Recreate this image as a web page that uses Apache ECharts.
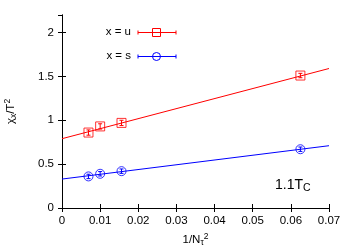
<!DOCTYPE html>
<html><head><meta charset="utf-8">
<script src="https://cdn.jsdelivr.net/npm/echarts@6/dist/echarts.min.js"></script>
<style>html,body{margin:0;padding:0;background:#fff}#c{width:350px;height:245px}</style>
</head><body><div id="c"></div>
<script>
var xVals = [0.00694, 0.01, 0.0156, 0.0625];
var uVals = [0.86, 0.93, 0.97, 1.51];
var uErr = [0.03, 0.03, 0.03, 0.025];
var sVals = [0.36, 0.39, 0.42, 0.67];
var sErr = [0.025, 0.025, 0.025, 0.025];
var fitX = [0, 0.07];
var uFit = [0.79, 1.59];
var sFit = [0.33, 0.71];
var xTicks = [0, 0.01, 0.02, 0.03, 0.04, 0.05, 0.06, 0.07];
var yTicks = [0, 0.5, 1, 1.5, 2];
var seriesNames = ['x = u', 'x = s'];

var FONT = 'Liberation Sans';
var FS = 11.5;
var RED = '#ff0000', BLUE = '#0000ff';

function pts(xs, ys) { return xs.map(function (x, i) { return [x, ys[i]]; }); }
function errData(xs, ys, es) { return xs.map(function (x, i) { return [x, ys[i] - es[i], ys[i] + es[i]]; }); }
function errRender(color) {
  return function (params, api) {
    var lo = api.coord([api.value(0), api.value(1)]);
    var hi = api.coord([api.value(0), api.value(2)]);
    var w = 2;
    return {
      type: 'group',
      children: [
        { type: 'line', shape: { x1: lo[0], y1: lo[1], x2: hi[0], y2: hi[1] }, style: { stroke: color, lineWidth: 1 } },
        { type: 'line', shape: { x1: lo[0] - w, y1: lo[1], x2: lo[0] + w, y2: lo[1] }, style: { stroke: color, lineWidth: 1 } },
        { type: 'line', shape: { x1: hi[0] - w, y1: hi[1], x2: hi[0] + w, y2: hi[1] }, style: { stroke: color, lineWidth: 1 } }
      ]
    };
  };
}

var axisCommon = {
  axisLine: { show: true, lineStyle: { color: '#000', width: 1 } },
  axisTick: { show: true, inside: true, length: 4, lineStyle: { color: '#000' } },
  splitLine: { show: false }
};
var richName = {
  n: { fontSize: FS, color: '#000', fontFamily: FONT },
  sub: { fontSize: 8.5, color: '#000', fontFamily: FONT, verticalAlign: 'bottom', padding: [4, 0, 0, 0] },
  sup: { fontSize: 8.5, color: '#000', fontFamily: FONT, verticalAlign: 'top', padding: [0, 0, 6, 0] }
};

var chart = echarts.init(document.getElementById('c'), null, { renderer: 'canvas' });
chart.setOption({
  animation: false,
  backgroundColor: '#fff',
  textStyle: { fontFamily: FONT },
  grid: { left: 62, right: 21, top: 15, bottom: 37, containLabel: false, outerBoundsMode: 'none' },
  xAxis: [
    Object.assign({
      type: 'value', min: 0, max: 0.07, interval: 0.01, position: 'bottom',
      axisLabel: { color: '#000', fontSize: FS, fontFamily: FONT, margin: 7,
        formatter: function (v) { return xTicks.indexOf(+v.toFixed(2)) >= 0 ? String(+v.toFixed(2)) : ''; } },
      name: '{n|1/N}{sub|τ}{sup|2}', nameLocation: 'middle', nameGap: 20,
      nameTextStyle: { color: '#000', fontFamily: FONT, rich: richName }
    }, axisCommon),
    Object.assign({ type: 'value', min: 0, max: 0.07, interval: 0.01, position: 'top', axisLabel: { show: false } }, axisCommon)
  ],
  yAxis: [
    Object.assign({
      type: 'value', min: 0, max: 2.2, interval: 0.5, position: 'left',
      axisLabel: { color: '#000', fontSize: FS, fontFamily: FONT, margin: 8, showMaxLabel: false,
        formatter: function (v) { return yTicks.indexOf(v) >= 0 ? String(v) : ''; } },
      name: '{n|χ}{sub|x}{n|/T}{sup|2}', nameLocation: 'middle', nameGap: 44, nameRotate: 90,
      nameTextStyle: { color: '#000', fontFamily: FONT, rich: richName }
    }, axisCommon),
    Object.assign({ type: 'value', min: 0, max: 2.2, interval: 0.5, position: 'right', axisLabel: { show: false } }, axisCommon)
  ],
  series: [
    { type: 'line', data: pts(fitX, uFit), symbol: 'none', lineStyle: { color: RED, width: 1 }, silent: true },
    { type: 'line', data: pts(fitX, sFit), symbol: 'none', lineStyle: { color: BLUE, width: 1 }, silent: true },
    { type: 'custom', data: errData(xVals, uVals, uErr), renderItem: errRender(RED), encode: { x: 0, y: [1, 2] } },
    { type: 'custom', data: errData(xVals, sVals, sErr), renderItem: errRender(BLUE), encode: { x: 0, y: [1, 2] } },
    { name: seriesNames[0], type: 'scatter', data: pts(xVals, uVals), symbol: 'rect', symbolSize: 9,
      itemStyle: { color: 'rgba(0,0,0,0)', borderColor: RED, borderWidth: 1 } },
    { name: seriesNames[1], type: 'scatter', data: pts(xVals, sVals), symbol: 'circle', symbolSize: 9,
      itemStyle: { color: 'rgba(0,0,0,0)', borderColor: BLUE, borderWidth: 1 } }
  ],
  graphic: [
    { type: 'text', right: 350 - 131, top: 26, style: { text: seriesNames[0], font: FS + 'px ' + FONT, fill: '#000', align: 'right' } },
    { type: 'text', right: 350 - 131, top: 50, style: { text: seriesNames[1], font: FS + 'px ' + FONT, fill: '#000', align: 'right' } },
    { type: 'group', children: [
      { type: 'line', shape: { x1: 138, y1: 32.5, x2: 176, y2: 32.5 }, style: { stroke: RED, lineWidth: 1 } },
      { type: 'line', shape: { x1: 138, y1: 30.5, x2: 138, y2: 34.5 }, style: { stroke: RED, lineWidth: 1 } },
      { type: 'line', shape: { x1: 176, y1: 30.5, x2: 176, y2: 34.5 }, style: { stroke: RED, lineWidth: 1 } },
      { type: 'rect', shape: { x: 152.5, y: 28.5, width: 8, height: 8 }, style: { stroke: RED, fill: 'none', lineWidth: 1 } },
      { type: 'line', shape: { x1: 138, y1: 56.5, x2: 176, y2: 56.5 }, style: { stroke: BLUE, lineWidth: 1 } },
      { type: 'line', shape: { x1: 138, y1: 54.5, x2: 138, y2: 58.5 }, style: { stroke: BLUE, lineWidth: 1 } },
      { type: 'line', shape: { x1: 176, y1: 54.5, x2: 176, y2: 58.5 }, style: { stroke: BLUE, lineWidth: 1 } },
      { type: 'circle', shape: { cx: 156.5, cy: 56.5, r: 4 }, style: { stroke: BLUE, fill: 'none', lineWidth: 1 } }
    ]},
    { type: 'text', x: 275, y: 176, style: { text: '{n|1.1T}{sub|C}', fill: '#000',
      rich: { n: { fontSize: 14, fontFamily: FONT, fill: '#000' }, sub: { fontSize: 10.5, fontFamily: FONT, fill: '#000', verticalAlign: 'bottom', padding: [7, 0, 0, 0] } } } }
  ]
});
</script></body></html>
